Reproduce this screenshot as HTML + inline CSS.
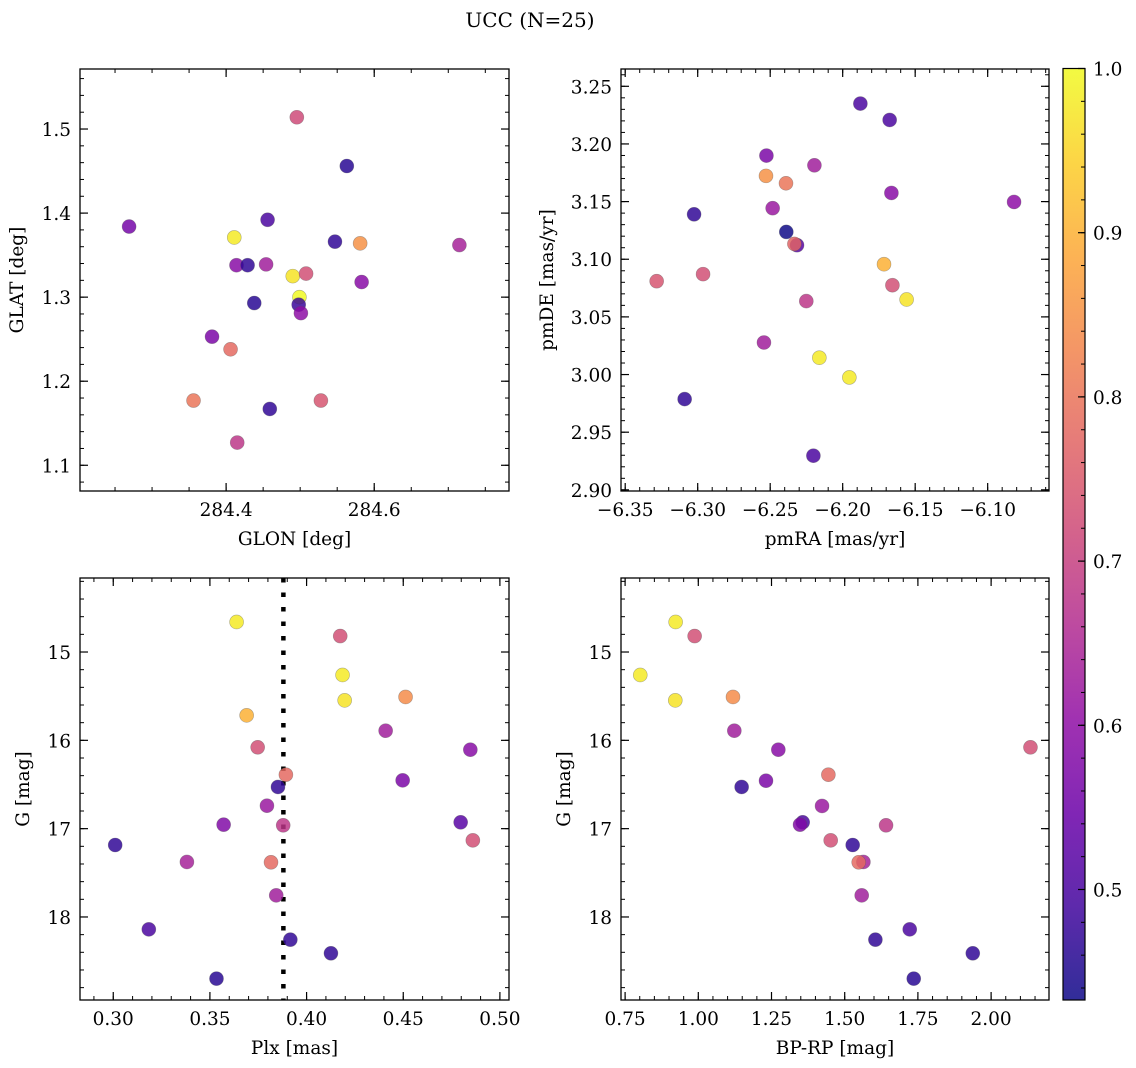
<!DOCTYPE html>
<html><head><meta charset="utf-8"><title>UCC (N=25)</title>
<style>
html,body{margin:0;padding:0;background:#fff;}
svg{display:block;font-family:"DejaVu Serif","Liberation Serif",serif;}
</style></head>
<body>
<svg id="fig" width="1136" height="1068" viewBox="0 0 1136 1068" xmlns="http://www.w3.org/2000/svg">
<text x="530" y="27" text-anchor="middle" font-size="20">UCC (N=25)</text>
</svg>
<script>
// Panel 1: GLON vs GLAT
const p1X=[284.4955,284.563,284.456,284.269,284.411,284.547,284.581,284.715,284.414,284.429,284.454,284.490,284.508,284.583,284.499,284.438,284.498,284.501,284.381,284.406,284.356,284.528,284.459,284.415];
const p1Y=[1.514,1.456,1.392,1.384,1.371,1.366,1.364,1.362,1.338,1.338,1.339,1.325,1.328,1.318,1.300,1.293,1.291,1.281,1.253,1.238,1.177,1.177,1.167,1.127];
const p1P=[0.72,0.46,0.50,0.56,0.98,0.47,0.85,0.64,0.59,0.47,0.63,0.97,0.73,0.59,1.0,0.46,0.48,0.60,0.57,0.78,0.80,0.74,0.47,0.68];
// Panel 2: pmRA vs pmDE
const p2X=[-6.1878,-6.1676,-6.2526,-6.2195,-6.2529,-6.2391,-6.1664,-6.0818,-6.2483,-6.3025,-6.2389,-6.2315,-6.2333,-6.1715,-6.2963,-6.3283,-6.1657,-6.1559,-6.2251,-6.2543,-6.2161,-6.1954,-6.309,-6.2202];
const p2Y=[3.235,3.2208,3.1899,3.1815,3.1723,3.1659,3.1575,3.1497,3.1443,3.139,3.1237,3.1122,3.1133,3.0957,3.0871,3.081,3.0775,3.0651,3.0637,3.0278,3.0146,2.9975,2.9787,2.9296];
const p2P=[0.50,0.50,0.57,0.63,0.85,0.80,0.59,0.60,0.62,0.47,0.43,0.52,0.77,0.90,0.73,0.74,0.73,0.97,0.68,0.63,0.98,0.98,0.47,0.50];
// Panel 3: Plx vs G
const p3X=[0.3638,0.4174,0.4186,0.4197,0.4512,0.369,0.4409,0.3747,0.4847,0.3893,0.3852,0.4497,0.3795,0.3571,0.3879,0.4797,0.486,0.301,0.3381,0.3816,0.3843,0.3184,0.3916,0.4126,0.3534];
const p3Y=[14.660,14.819,15.260,15.547,15.509,15.717,15.891,16.079,16.106,16.389,16.528,16.453,16.740,16.955,16.962,16.928,17.132,17.185,17.377,17.381,17.755,18.140,18.257,18.411,18.698];
const p3P=[0.98,0.73,0.98,0.97,0.84,0.90,0.63,0.73,0.59,0.78,0.47,0.57,0.62,0.58,0.68,0.52,0.73,0.47,0.64,0.78,0.63,0.50,0.47,0.47,0.46];
const plxMean=0.388;
// Panel 4: BP-RP vs G
const p4X=[0.9226,0.9875,0.8018,0.9214,1.1185,1.123,1.2733,2.1344,1.4442,1.148,1.2312,1.4226,1.3565,1.3474,1.6412,1.4522,1.5273,1.5638,1.5478,1.5581,1.7221,1.6048,1.9374,1.7358];
const p4Y=[14.660,14.819,15.260,15.547,15.509,15.891,16.106,16.079,16.389,16.528,16.457,16.743,16.928,16.955,16.962,17.132,17.185,17.377,17.381,17.755,18.140,18.257,18.411,18.698];
const p4P=[0.98,0.73,0.98,0.97,0.84,0.63,0.59,0.73,0.78,0.47,0.57,0.62,0.50,0.58,0.68,0.73,0.47,0.64,0.78,0.63,0.50,0.47,0.47,0.46];
const cbTicks=[0.5,0.6,0.7,0.8,0.9,1.0];
const VMIN=0.4327, VMAX=1.0;

const FS=18.5;
const NS='http://www.w3.org/2000/svg';
const svg=document.getElementById('fig');
function mk(tag,attrs,parent){const e=document.createElementNS(NS,tag);for(const k in attrs)e.setAttribute(k,attrs[k]);(parent||svg).appendChild(e);return e;}
const stops=[[13,8,135],[65,4,157],[106,0,168],[143,13,164],[177,42,144],[204,71,120],[225,100,98],[242,132,75],[252,166,54],[252,206,37],[240,249,33]];
function plasma(t){t=Math.max(0,Math.min(1,t));const f=t*10;const i=Math.min(9,Math.floor(f));const u=f-i;const a=stops[i],b=stops[i+1];
 return 'rgb('+a.map((v,k)=>Math.round(v+(b[k]-v)*u)).join(',')+')';}
function cnorm(p){return (p-VMIN)/(VMAX-VMIN);}
function fmtNum(v,d){const s=Math.abs(v).toFixed(d);return (v<-1e-9?'\u2212':'')+s;}

function panel(cfg){
 const g=mk('g',{});
 
 
 const L=cfg.x0,R=cfg.x0+cfg.w,T=cfg.y0,B=cfg.y0+cfg.h;
 const sx=v=>L+(v-cfg.xr[0])/(cfg.xr[1]-cfg.xr[0])*cfg.w;
 const sy=v=>cfg.yinv? T+(v-cfg.yr[0])/(cfg.yr[1]-cfg.yr[0])*cfg.h : B-(v-cfg.yr[0])/(cfg.yr[1]-cfg.yr[0])*cfg.h;
 if(cfg.vline!==undefined){
  const vl=mk('line',{x1:sx(cfg.vline),x2:sx(cfg.vline),y1:T,y2:B,stroke:'#000','stroke-width':4.5,'stroke-dasharray':'4.5 10'},g);
  
  
 }
 for(let i=0;i<cfg.X.length;i++){
  const c=mk('circle',{cx:sx(cfg.X[i]),cy:sy(cfg.Y[i]),r:7,fill:plasma(cnorm(cfg.P[i])),'fill-opacity':0.84,stroke:'#555','stroke-opacity':0.45,'stroke-width':0.6},g);
  
  
 }
 const eps=1e-9;
 function ticksBetween(a,b,step){const out=[];const s=Math.ceil((a-eps)/step);for(let k=s;k*step<=b+eps;k++)out.push(+(k*step).toFixed(6));return out;}
 const xlo=Math.min(...cfg.xr),xhi=Math.max(...cfg.xr),ylo=Math.min(...cfg.yr),yhi=Math.max(...cfg.yr);
 ticksBetween(xlo,xhi,cfg.xmin).forEach(v=>{const x=sx(v);mk('line',{x1:x,x2:x,y1:B,y2:B-4,stroke:'#000','stroke-width':1},g);mk('line',{x1:x,x2:x,y1:T,y2:T+4,stroke:'#000','stroke-width':1},g);});
 ticksBetween(ylo,yhi,cfg.ymin).forEach(v=>{const y=sy(v);mk('line',{x1:L,x2:L+4,y1:y,y2:y,stroke:'#000','stroke-width':1},g);mk('line',{x1:R,x2:R-4,y1:y,y2:y,stroke:'#000','stroke-width':1},g);});
 ticksBetween(xlo,xhi,cfg.xmaj).forEach(v=>{const x=sx(v);mk('line',{x1:x,x2:x,y1:B,y2:B-8,stroke:'#000','stroke-width':1.2},g);mk('line',{x1:x,x2:x,y1:T,y2:T+8,stroke:'#000','stroke-width':1.2},g);
  const t=mk('text',{x:x,y:B+25,'text-anchor':'middle','font-size':FS},g);t.textContent=fmtNum(v,cfg.xd);
  
  });
 ticksBetween(ylo,yhi,cfg.ymaj).forEach(v=>{const y=sy(v);mk('line',{x1:L,x2:L+8,y1:y,y2:y,stroke:'#000','stroke-width':1.2},g);mk('line',{x1:R,x2:R-8,y1:y,y2:y,stroke:'#000','stroke-width':1.2},g);
  const t=mk('text',{x:L-9,y:y+7,'text-anchor':'end','font-size':FS},g);t.textContent=fmtNum(v,cfg.yd);
  
  });
 const fr=mk('rect',{x:L,y:T,width:cfg.w,height:cfg.h,fill:'none',stroke:'#000','stroke-width':1.3},g);
 
 
 const xl=mk('text',{x:(L+R)/2,y:B+54,'text-anchor':'middle','font-size':FS},g);xl.textContent=cfg.xlabel;
 
 
 const yx=cfg.ylx, yy=(T+B)/2;
 const yl=mk('text',{x:yx,y:yy,'text-anchor':'middle','font-size':FS,transform:'rotate(-90 '+yx+' '+yy+')'},g);yl.textContent=cfg.ylabel;
 
 
}

panel({name:'glon-glat-panel',x0:80,y0:69,w:429,h:422,xr:[284.2027,284.782],yr:[1.0694,1.5714],xmaj:0.2,xmin:0.05,ymaj:0.1,ymin:0.02,xd:1,yd:1,X:p1X,Y:p1Y,P:p1P,xlabel:'GLON [deg]',ylabel:'GLAT [deg]',ylx:23});
panel({name:'pm-panel',x0:621,y0:69,w:428,h:422,xr:[-6.3529,-6.0577],yr:[2.899,3.265],xmaj:0.05,xmin:0.01,ymaj:0.05,ymin:0.01,xd:2,yd:2,X:p2X,Y:p2Y,P:p2P,xlabel:'pmRA [mas/yr]',ylabel:'pmDE [mas/yr]',ylx:553});
panel({name:'plx-g-panel',x0:80,y0:578,w:429,h:422,xr:[0.2828,0.5047],yr:[14.162,18.940],yinv:true,xmaj:0.05,xmin:0.01,ymaj:1,ymin:0.2,xd:2,yd:0,X:p3X,Y:p3Y,P:p3P,vline:plxMean,xlabel:'Plx [mas]',ylabel:'G [mag]',ylx:29});
panel({name:'cmd-panel',x0:621,y0:578,w:428,h:422,xr:[0.736,2.1977],yr:[14.162,18.940],yinv:true,xmaj:0.25,xmin:0.05,ymaj:1,ymin:0.2,xd:2,yd:0,X:p4X,Y:p4Y,P:p4P,xlabel:'BP-RP [mag]',ylabel:'G [mag]',ylx:570});

(function(){
 const g=mk('g',{});
 
 
 const x0=1063,w=22,T=68.5,B=1000;
 const defs=mk('defs',{},g);
 const lg=mk('linearGradient',{id:'cbg',x1:0,y1:1,x2:0,y2:0},defs);
 for(let i=0;i<=20;i++){mk('stop',{offset:i/20,'stop-color':plasma(i/20),'stop-opacity':0.85},lg);}
 mk('rect',{x:x0,y:T,width:w,height:B-T,fill:'url(#cbg)',stroke:'#000','stroke-width':1.2},g);
 const sy=v=>B-(v-VMIN)/(VMAX-VMIN)*(B-T);
 for(let k=22;k<=50;k++){const v=k*0.02;if(v<VMIN||v>VMAX+1e-9)continue;const y=sy(v);mk('line',{x1:x0+w,x2:x0+w-4,y1:y,y2:y,stroke:'#000','stroke-width':1},g);}
 cbTicks.forEach(v=>{const y=sy(v);mk('line',{x1:x0+w,x2:x0+w-7,y1:y,y2:y,stroke:'#000','stroke-width':1.2},g);
  const t=mk('text',{x:x0+w+8,y:y+7,'font-size':FS},g);t.textContent=v.toFixed(1);
  
  });
})();
</script>
</body></html>
